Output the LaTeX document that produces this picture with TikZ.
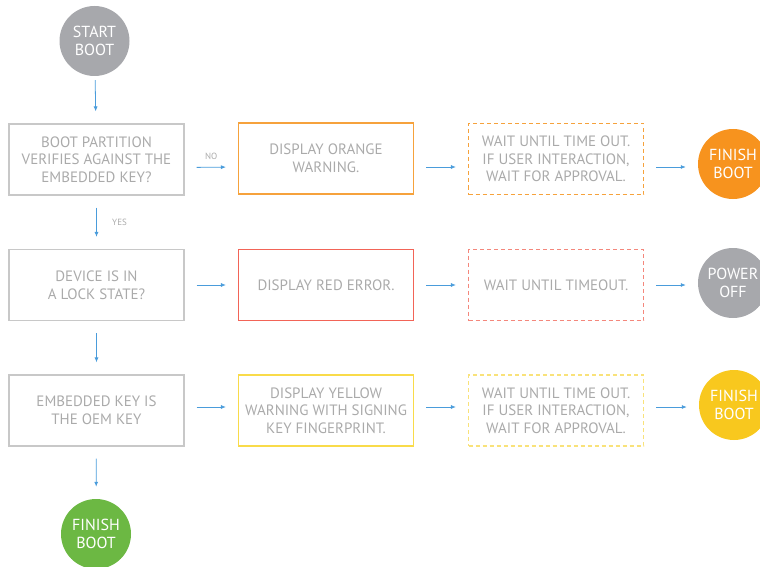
\documentclass[tikz,border=0pt]{standalone}
\usepackage{fontspec}
\setmainfont{PT Sans}
\usetikzlibrary{arrows.meta}
\definecolor{boxgray}{HTML}{C8C8C8}
\definecolor{txtgray}{HTML}{AAAAAA}
\definecolor{orng}{HTML}{F7931E}
\definecolor{orngline}{HTML}{F6A23C}
\definecolor{redline}{HTML}{F26457}
\definecolor{reddash}{HTML}{F4877C}
\definecolor{yelline}{HTML}{F9DB4A}
\definecolor{yeldash}{HTML}{F9E27A}
\definecolor{yelfill}{HTML}{F8C81E}
\definecolor{circgray}{HTML}{A7A8AC}
\definecolor{grn}{HTML}{6CB843}
\definecolor{arr}{HTML}{4A9CDB}
\begin{document}
\begin{tikzpicture}[x=1pt,y=-1pt,
 box/.style={draw=boxgray, line width=1.1pt, minimum width=175pt, minimum height=71pt, inner sep=0pt, align=center, text=txtgray, font=\fontsize{15}{17.6}\selectfont},
 dbox/.style={box, dash pattern=on 4pt off 3pt},
 circ/.style={circle, minimum size=70pt, inner sep=0pt, align=center, text=white, font=\fontsize{16}{18}\selectfont},
 flow/.style={draw=arr, line width=0.8pt, -{Latex[length=5pt,width=4pt]}, shorten <=12pt, shorten >=12pt},
 lbl/.style={text=txtgray, font=\fontsize{9}{10}\selectfont}]
\useasboundingbox (0,0) rectangle (760,567);

% left column
\node[circ, fill=circgray] (start) at (94.5,41) {START\\BOOT};
\node[box] (b1) at (96.5,159.5) {BOOT PARTITION\\VERIFIES AGAINST THE\\EMBEDDED KEY?};
\node[box] (b2) at (96.5,285) {DEVICE IS IN\\A LOCK STATE?};
\node[box] (b3) at (96.5,410.5) {EMBEDDED KEY IS\\THE OEM KEY};
\node[circ, fill=grn] (fin) at (96,534) {FINISH\\BOOT};

% middle column
\node[box, draw=orngline] (o1) at (326,158.5) {DISPLAY ORANGE\\WARNING.};
\node[box, draw=redline] (r1) at (326,285) {DISPLAY RED ERROR.};
\node[box, draw=yelline] (y1) at (326,410.5) {DISPLAY YELLOW\\WARNING WITH SIGNING\\KEY FINGERPRINT.};

% right column
\node[dbox, draw=orngline] (o2) at (556,159) {WAIT UNTIL TIME OUT.\\IF USER INTERACTION,\\WAIT FOR APPROVAL.};
\node[dbox, draw=reddash] (r2) at (556,285) {WAIT UNTIL TIMEOUT.};
\node[dbox, draw=yeldash] (y2) at (556,410.5) {WAIT UNTIL TIME OUT.\\IF USER INTERACTION,\\WAIT FOR APPROVAL.};

% end circles
\node[circ, fill=orng] (oc) at (733,164) {FINISH\\BOOT};
\node[circ, fill=circgray] (pc) at (733,283) {POWER\\OFF};
\node[circ, fill=yelfill] (yc) at (734,405) {FINISH\\BOOT};

% vertical connectors
\draw[flow, shorten <=4pt] (start) -- (b1);
\draw[flow] (b1) -- node[lbl, anchor=west, xshift=12pt] {YES} (b2);
\draw[flow] (b2) -- (b3);
\draw[flow] (b3) -- (fin);

% row 1
\draw[flow] ([yshift=-8pt]b1.east) -- node[lbl, above=4pt] {NO} ([yshift=-8.5pt]o1.west);
\draw[flow] ([yshift=-8.5pt]o1.east) -- ([yshift=-8pt]o2.west);
\draw[flow] ([yshift=-8pt]o2.east) -- ([yshift=-8pt]o2.east -| oc.west);

% row 2
\draw[flow] (b2.east) -- (r1.west);
\draw[flow] (r1.east) -- (r2.west);
\draw[flow] (r2.east) -- (r2.east -| pc.west);

% row 3
\draw[flow] ([yshift=3.5pt]b3.east) -- ([yshift=3.5pt]y1.west);
\draw[flow] ([yshift=3.5pt]y1.east) -- ([yshift=3.5pt]y2.west);
\draw[flow] ([yshift=3.5pt]y2.east) -- ([yshift=3.5pt]y2.east -| yc.west);
\end{tikzpicture}
\end{document}
